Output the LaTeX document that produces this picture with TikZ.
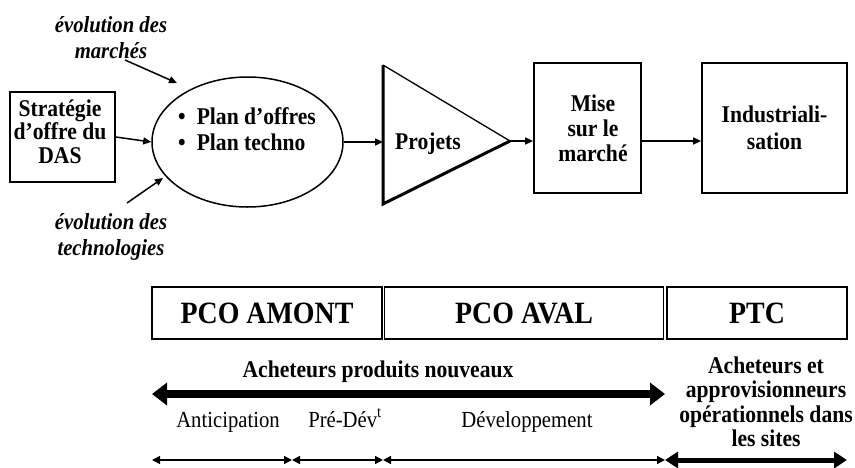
\documentclass[tikz,border=0pt]{standalone}
\usepackage{fontspec}
\setmainfont{Liberation Serif}[FakeStretch=0.9]
\usetikzlibrary{arrows.meta,shapes.geometric}
\begin{document}
\begin{tikzpicture}[x=1pt,y=-1pt,
  bf/.style={font=\fontsize{24}{24}\selectfont\bfseries, align=center, inner sep=0pt},
  ev/.style={font=\fontsize{23}{26}\selectfont\bfseries\itshape, align=center, inner sep=0pt},
  rg/.style={font=\fontsize{23}{24}\selectfont, inner sep=0pt, anchor=base},
  box/.style={draw, line width=1.8pt, inner sep=0pt, align=center, font=\fontsize{24}{23.5}\selectfont\bfseries},
  band/.style={draw, line width=1.5pt, inner sep=0pt, minimum height=52pt, font=\fontsize{31}{31}\selectfont\bfseries},
  arr/.style={line width=1.5pt, -{Triangle[length=8pt,width=7pt]}},
  small/.style={line width=1.5pt, {Triangle[length=8pt,width=8pt]}-{Triangle[length=8pt,width=8pt]}},
  big/.style={line width=8pt, {Triangle[length=15pt,width=22pt]}-{Triangle[length=15pt,width=22pt]}},
  mid/.style={line width=5pt, {Triangle[length=13pt,width=16pt]}-{Triangle[length=13pt,width=16pt]}}
]
\useasboundingbox (0,0) rectangle (855,467);

% top row
\node[ev] (evm) at (111,37.5) {évolution des\\marchés};
\node[ev] (evt) at (111,236.5) {évolution des\\technologies};

\node[box, minimum width=105pt, minimum height=90pt] (das) at (62.5,137) {};
\node[box, draw=none] (dastxt) at (60,131.5) {Stratégie\\d'offre du\\DAS};
\node[draw, ellipse, line width=1.5pt, minimum width=191pt, minimum height=130pt] (ell) at (247.5,142) {};
\node[bf, align=left, anchor=west, font=\fontsize{24}{26}\selectfont\bfseries] (plans) at (178,129) {\textbullet\hspace{11pt}Plan d'offres\\\textbullet\hspace{11pt}Plan techno};

\coordinate (t1) at (383,65);
\coordinate (t2) at (383,204);
\coordinate (t3) at (510,141);
\coordinate (tin) at (383,142);
\draw[line width=1.3pt] (t1) -- (t3);
\draw[line width=3pt, line join=miter] (t3) -- (t2) -- (t1);
\node[bf] (proj) at (428,144) {Projets};

\node[box, minimum width=107pt, minimum height=130pt] (mise) at (587.5,128) {};
\node[bf, font=\fontsize{24}{25}\selectfont\bfseries] (misetxt) at (593,128) {Mise\\sur le\\marché};
\node[box, minimum width=145pt, minimum height=130pt, font=\fontsize{24}{27}\selectfont\bfseries] (ind) at (774.5,128) {Industriali-\\sation};

\coordinate (m1) at (125,60);
\coordinate (m2) at (177,83);
\coordinate (n1) at (127,203);
\coordinate (n2) at (163,178);
\draw[arr] (m1) -- (m2);
\draw[arr] (n1) -- (n2);
\draw[arr] (das.east) -- (ell.west);
\draw[arr] (ell.east) -- (tin);
\draw[arr] (t3) -- (t3 -| mise.west);
\draw[arr] (mise.east |- t3) -- (t3 -| ind.west);

% band
\node[band, minimum width=230pt] (amont) at (267,313) {PCO AMONT};
\node[band, minimum width=279pt] (aval) at (524,313) {PCO AVAL};
\node[band, minimum width=180pt] (ptc) at (757,313) {PTC};

\node[bf] (ach) at (378,372) {Acheteurs produits nouveaux};
\node[bf, font=\fontsize{24}{24.5}\selectfont\bfseries] (achop) at (766,402) {Acheteurs et\\approvisionneurs\\opérationnels dans\\les sites};

\coordinate (b1) at (152,394);
\coordinate (b2) at (665,394);
\draw[big] (b1) -- (b2);

\node[rg] (anti) at (228,427) {Anticipation};
\node[rg] (pre) at (345,427) {Pré-Dév\textsuperscript{t}};
\node[rg] (dev) at (527,427) {Développement};

\coordinate (s0) at (152,460);
\coordinate (s1) at (292,460);
\coordinate (s2) at (383,460);
\coordinate (s3) at (665,460);
\coordinate (s4) at (847,460);
\draw[small] (s0) -- (s1);
\draw[small] (s1) -- (s2);
\draw[small] (s2) -- (s3);
\draw[mid] (s3) -- (s4);
\end{tikzpicture}
\end{document}
